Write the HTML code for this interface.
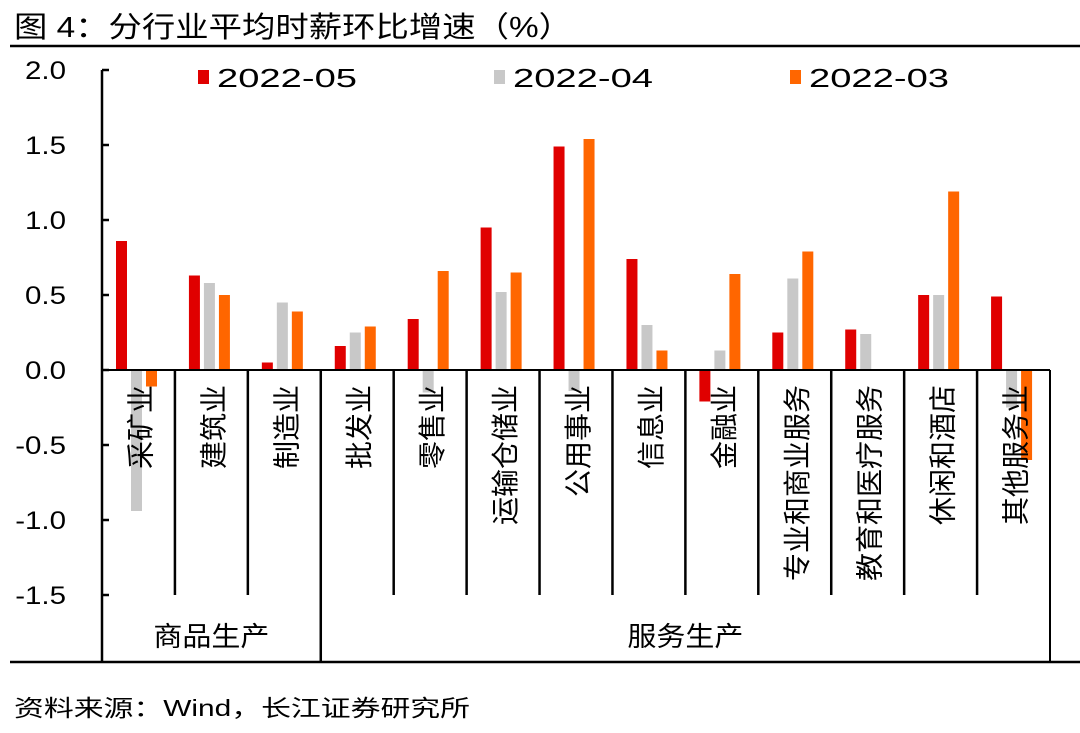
<!DOCTYPE html>
<html><head><meta charset="utf-8"><style>
body{margin:0;background:#fff;}
svg text{font-family:"Liberation Sans","Noto Sans CJK SC",sans-serif;}
</style></head><body>
<svg id="c" width="1080" height="728" xmlns="http://www.w3.org/2000/svg">
<text x="14" y="37" font-size="29" textLength="558" lengthAdjust="spacingAndGlyphs" fill="#000">图 4：分行业平均时薪环比增速（%）</text>
<line x1="10" y1="46" x2="1080" y2="46" stroke="#000" stroke-width="2.5"/>
<text x="14" y="716" font-size="23" textLength="456" lengthAdjust="spacingAndGlyphs" fill="#000">资料来源：Wind，长江证券研究所</text>
<g id="plot"></g>
</svg>
<script>
const categories=["采矿业","建筑业","制造业","批发业","零售业","运输仓储业","公用事业","信息业","金融业","专业和商业服务","教育和医疗服务","休闲和酒店","其他服务业"];
const s2205=[0.86,0.63,0.05,0.16,0.34,0.95,1.49,0.74,-0.21,0.25,0.27,0.50,0.49];
const s2204=[-0.94,0.58,0.45,0.25,-0.15,0.52,-0.14,0.30,0.13,0.61,0.24,0.50,-0.25];
const s2203=[-0.11,0.50,0.39,0.29,0.66,0.65,1.54,0.13,0.64,0.79,0.00,1.19,-0.60];
const seriesNames=["2022-05","2022-04","2022-03"];
const yTicks=[2.0,1.5,1.0,0.5,0.0,-0.5,-1.0,-1.5];
const groups=[{name:"商品生产",from:0,to:3},{name:"服务生产",from:3,to:13}];

const NS="http://www.w3.org/2000/svg";
const g=document.getElementById('plot');
const X0=102,X1=1050,Y0=370,PER=150,BOT=662,CATBOT=595;
const cw=(X1-X0)/categories.length;
const y=v=>Y0-v*PER;
const xc=i=>X0+cw*i;
function mk(t,a){const e=document.createElementNS(NS,t);for(const k in a)e.setAttribute(k,a[k]);g.appendChild(e);return e;}
const colors=["#e00000","#c8c8c8","#ff6600"];
const series=[s2205,s2204,s2203];
const offs=[14,29,44],bw=11;
series.forEach((s,si)=>{s.forEach((v,i)=>{
 const r=mk('rect',{x:xc(i)+offs[si],y:Math.min(y(v),Y0),width:bw,height:Math.abs(y(v)-Y0),fill:colors[si]});
 
 
});});
categories.forEach((c,i)=>{
 const cx=xc(i)+cw/2;
 const t=mk('text',{x:0,y:0,"font-size":28,"text-anchor":"end",fill:"#000",transform:`translate(${cx+12},385) rotate(-90)`});
 t.textContent=c;
 
 
});
const z=mk('line',{x1:X0,y1:Y0,x2:X1,y2:Y0,stroke:"#000","stroke-width":2});


for(let i=1;i<categories.length;i++){
 const isGroup=groups.some(gr=>gr.from===i);
 const l=mk('line',{x1:xc(i),y1:Y0,x2:xc(i),y2:isGroup?BOT:CATBOT,stroke:"#000","stroke-width":2.5});
 
 
}
const rl=mk('line',{x1:X1,y1:Y0,x2:X1,y2:BOT,stroke:"#000","stroke-width":2});


const bl=mk('line',{x1:10,y1:BOT,x2:1080,y2:BOT,stroke:"#000","stroke-width":2.5});


groups.forEach(gr=>{
 const t=mk('text',{x:(xc(gr.from)+xc(gr.to))/2,y:646,"font-size":27,"text-anchor":"middle",textLength:116,lengthAdjust:"spacingAndGlyphs",fill:"#000"});
 t.textContent=gr.name;
 
 
});
const ya=mk('line',{x1:X0,y1:y(2),x2:X0,y2:BOT,stroke:"#000","stroke-width":2.5});


yTicks.forEach(v=>{
 const tk=mk('line',{x1:X0,y1:y(v),x2:X0+7,y2:y(v),stroke:"#000","stroke-width":2.5});
 
 
 const t=mk('text',{x:0,y:0,"font-size":25,"text-anchor":"end",fill:"#000",transform:`translate(66,${y(v)+9}) scale(1.18,1)`});
 t.textContent=v.toFixed(1);
 
 
});
const lx=[198,494,790];
seriesNames.forEach((n,i)=>{
 const r=mk('rect',{x:lx[i],y:70,width:11,height:14,fill:colors[i]});
 
 
 const t=mk('text',{x:lx[i]+19,y:87,"font-size":26,textLength:140,lengthAdjust:"spacingAndGlyphs",fill:"#000"});
 t.textContent=n;
 
 
});
</script>
</body></html>
